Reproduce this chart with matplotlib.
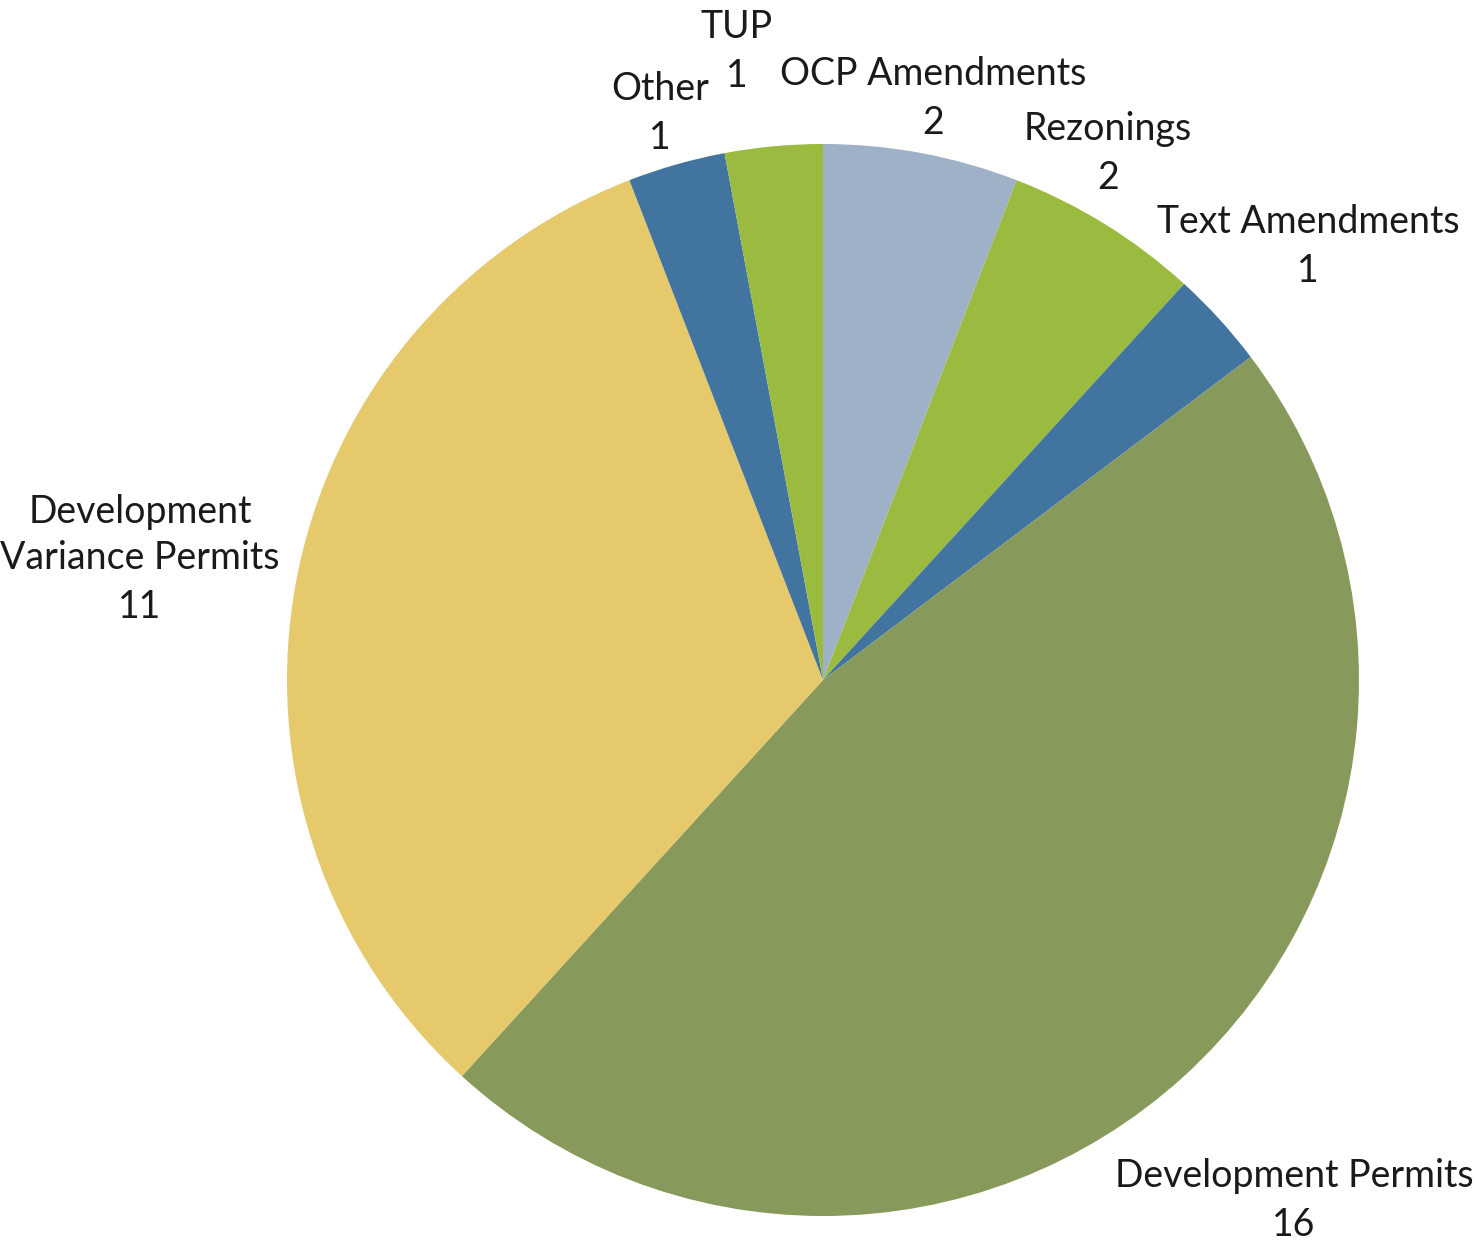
import matplotlib.pyplot as plt

# permit applications by type
categories = ["OCP Amendments", "Rezonings", "Text Amendments", "Development Permits",
              "Development\nVariance Permits", "Other", "TUP"]
counts = [2, 2, 1, 16, 11, 1, 1]
colors = ["#9FB1C7", "#9BBB40", "#4274A0", "#889A5B", "#E5C96B", "#4274A0", "#9BBB40"]

# label x centre and baseline of the first line, in pixels from top-left
label_px = [(933, 85), (1108, 140), (1308, 233), (1294, 1187),
            (140, 523), (660, 100), (737, 38)]
line_step = 46  # pixels between label lines

W, H = 1477, 1252
cx, cy, R = 823, 680, 536

fig = plt.figure(figsize=(W / 100, H / 100), dpi=100)
ax = fig.add_axes([0, 0, 1, 1])

ax.pie(counts, colors=colors, startangle=90, counterclock=False, radius=1,
       center=(0, 0), wedgeprops=dict(linewidth=0))

# pie() resets the limits, so fix them afterwards
ax.set_xlim(-cx / R, (W - cx) / R)
ax.set_ylim(-(H - cy) / R, cy / R)
ax.set_aspect("equal")
ax.axis("off")

# one text per line so the name and value sit independently
for name, val, (px, py) in zip(categories, counts, label_px):
    lines = name.split("\n") + [str(val)]
    for k, line in enumerate(lines):
        y = py + k * line_step
        if k == len(lines) - 1 and k > 0:
            y += 3
        ax.text((px - cx) / R, (cy - y) / R, line,
                ha="center", va="baseline", fontsize=27, family="Lato",
                color="#1a1a1a")

fig.savefig("out.png", dpi=100)
